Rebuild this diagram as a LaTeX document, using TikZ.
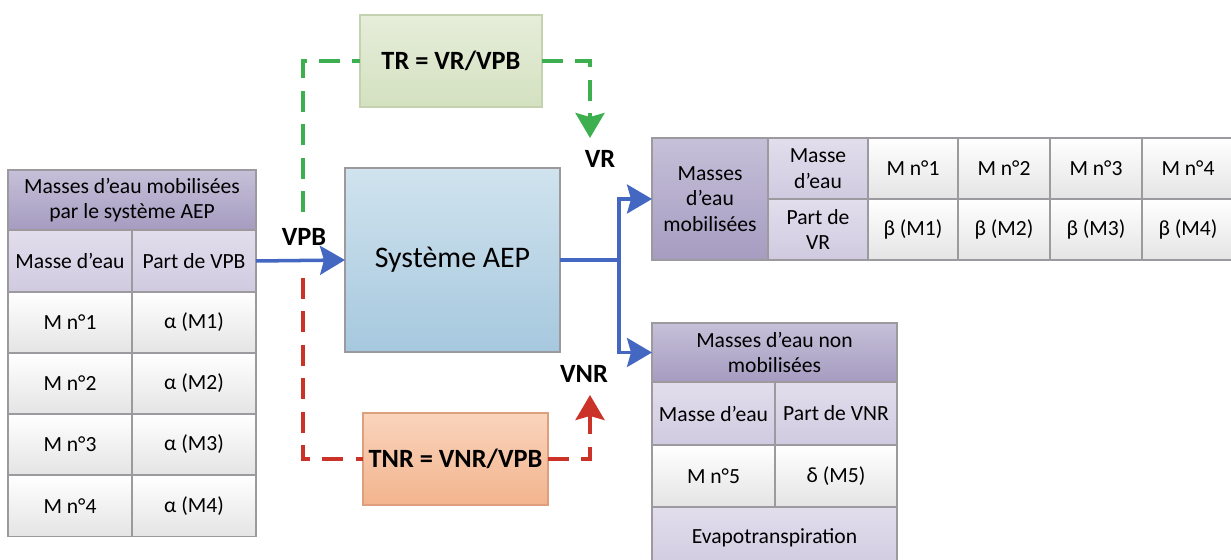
\documentclass[tikz,border=0pt]{standalone}
\usepackage{fontspec}
\setmainfont{Carlito}
\usetikzlibrary{arrows.meta}
\usepackage{xcolor}

\definecolor{cellgray}{HTML}{9C9A9E}
\definecolor{hdtop}{HTML}{C6C0D9}
\definecolor{hdbot}{HTML}{A59CC0}
\definecolor{lttop}{HTML}{E2DEEC}
\definecolor{ltbot}{HTML}{D0CAE0}
\definecolor{wttop}{HTML}{FFFFFF}
\definecolor{wtbot}{HTML}{E4E4E4}
\definecolor{systop}{HTML}{D0E3EE}
\definecolor{sysbot}{HTML}{A6C8DE}
\definecolor{trtop}{HTML}{E6EDDA}
\definecolor{trbot}{HTML}{D4E1C0}
\definecolor{trline}{HTML}{C4D2B0}
\definecolor{tnrtop}{HTML}{FAD4BC}
\definecolor{tnrbot}{HTML}{F2B48E}
\definecolor{tnrline}{HTML}{DEA07C}
\definecolor{flowblue}{HTML}{4468C2}
\definecolor{flowgreen}{HTML}{3DAF4E}
\definecolor{flowred}{HTML}{CC3328}

\tikzset{
  cell/.style 2 args={draw=cellgray, line width=0.8pt, inner sep=0pt, outer sep=0pt,
    minimum width=#1*0.02cm, minimum height=#2*0.02cm, align=center,
    font=\fontsize{12.3}{14.5}\selectfont},
  purpledark/.style={top color=hdtop, bottom color=hdbot},
  purplelight/.style={top color=lttop, bottom color=ltbot},
  whitecell/.style={top color=wttop, bottom color=wtbot},
  lbl/.style={font=\fontsize{15}{16}\selectfont\bfseries, inner sep=1pt},
  bigtip/.style={-{Stealth[length=0.5cm, width=0.58cm, inset=0.08cm]}},
  blueline/.style={draw=flowblue, line width=2pt},
  greendash/.style={draw=flowgreen, line width=2.1pt, dash pattern=on 12pt off 7pt},
  reddash/.style={draw=flowred, line width=2.1pt, dash pattern=on 12pt off 7pt}
}

\begin{document}
\begin{tikzpicture}[x=0.02cm, y=-0.02cm]
\useasboundingbox (0,0) rectangle (1231,560);

% left table
\node[cell={248}{60}, purpledark] (lhead) at (132,200) {Masses d’eau mobilisées\\par le système AEP};
\node[cell={124}{62}, purplelight] (lmasse) at (70,261) {Masse d’eau};
\node[cell={124}{62}, purplelight] (lpart) at (194,261) {Part de VPB};
\foreach \i/\y in {1/322.5, 2/383.5, 3/444.5, 4/506} {
  \node[cell={124}{61}, whitecell] (lm\i) at (70,\y) {M n°\i};
  \node[cell={124}{61}, whitecell] (la\i) at (194,\y) {α (M\i)};
}

% central part
\node[cell={215}{184}, top color=systop, bottom color=sysbot,
  font=\fontsize{17}{20}\selectfont] (sys) at (452.5,260) {Système AEP};
\node[cell={182}{92}, draw=trline, top color=trtop, bottom color=trbot,
  font=\fontsize{15}{16}\selectfont\bfseries] (tr) at (451,61) {TR = VR/VPB};
\node[cell={185}{92}, draw=tnrline, top color=tnrtop, bottom color=tnrbot,
  font=\fontsize{15}{16}\selectfont\bfseries] (tnr) at (455.5,459) {TNR = VNR/VPB};

\node[lbl] (vpbl) at (304,237) {VPB};
\node[lbl] (vrl) at (600,159) {VR};
\node[lbl] (vnrl) at (584,374) {VNR};

% right tables
\node[cell={116}{122}, purpledark] (rmob) at (710,199) {Masses\\d’eau\\mobilisées};
\node[cell={100}{61}, purplelight] (rmas) at (818,168.5) {Masse\\d’eau};
\node[cell={100}{61}, purplelight] (rpart) at (818,229.5) {Part de\\VR};
\foreach \i/\x/\w in {1/913/90, 2/1004/92, 3/1096/92, 4/1188/92} {
  \node[cell={\w}{61}, whitecell] (rm\i) at (\x,168.5) {M n°\i};
  \node[cell={\w}{61}, whitecell] (rb\i) at (\x,229.5) {β (M\i)};
}

\node[cell={245}{59}, purpledark] (nmob) at (774.5,352.5) {Masses d’eau non\\mobilisées};
\node[cell={123}{63}, purplelight] (nmas) at (713.5,413.5) {Masse d’eau};
\node[cell={122}{63}, purplelight] (npart) at (836,413.5) {Part de VNR};
\node[cell={123}{62}, whitecell] (nm5) at (713.5,476) {M n°5};
\node[cell={122}{62}, whitecell] (nd5) at (836,476) {δ (M5)};
\node[cell={245}{62}, purplelight] (nevap) at (774.5,538) {Evapotranspiration};

% connectors
\coordinate (split) at (619,260);
\coordinate (gstart) at (303,212);
\coordinate (vrtip) at (590,138);
\coordinate (rstart) at (303,278);
\coordinate (vnrtip) at (590,395);

\draw[blueline, bigtip] (lpart.east) -- (sys.west);
\draw[blueline, bigtip] (sys.east) -- (split) |- (rmob.west);
\draw[blueline, bigtip] (split) |- (nmob.west);

\draw[greendash] (gstart) |- (tr.west);
\draw[greendash, bigtip] (tr.east) -| (vrtip);
\draw[reddash] (rstart) |- (tnr.west);
\draw[reddash, bigtip] (tnr.east) -| (vnrtip);
\end{tikzpicture}
\end{document}
